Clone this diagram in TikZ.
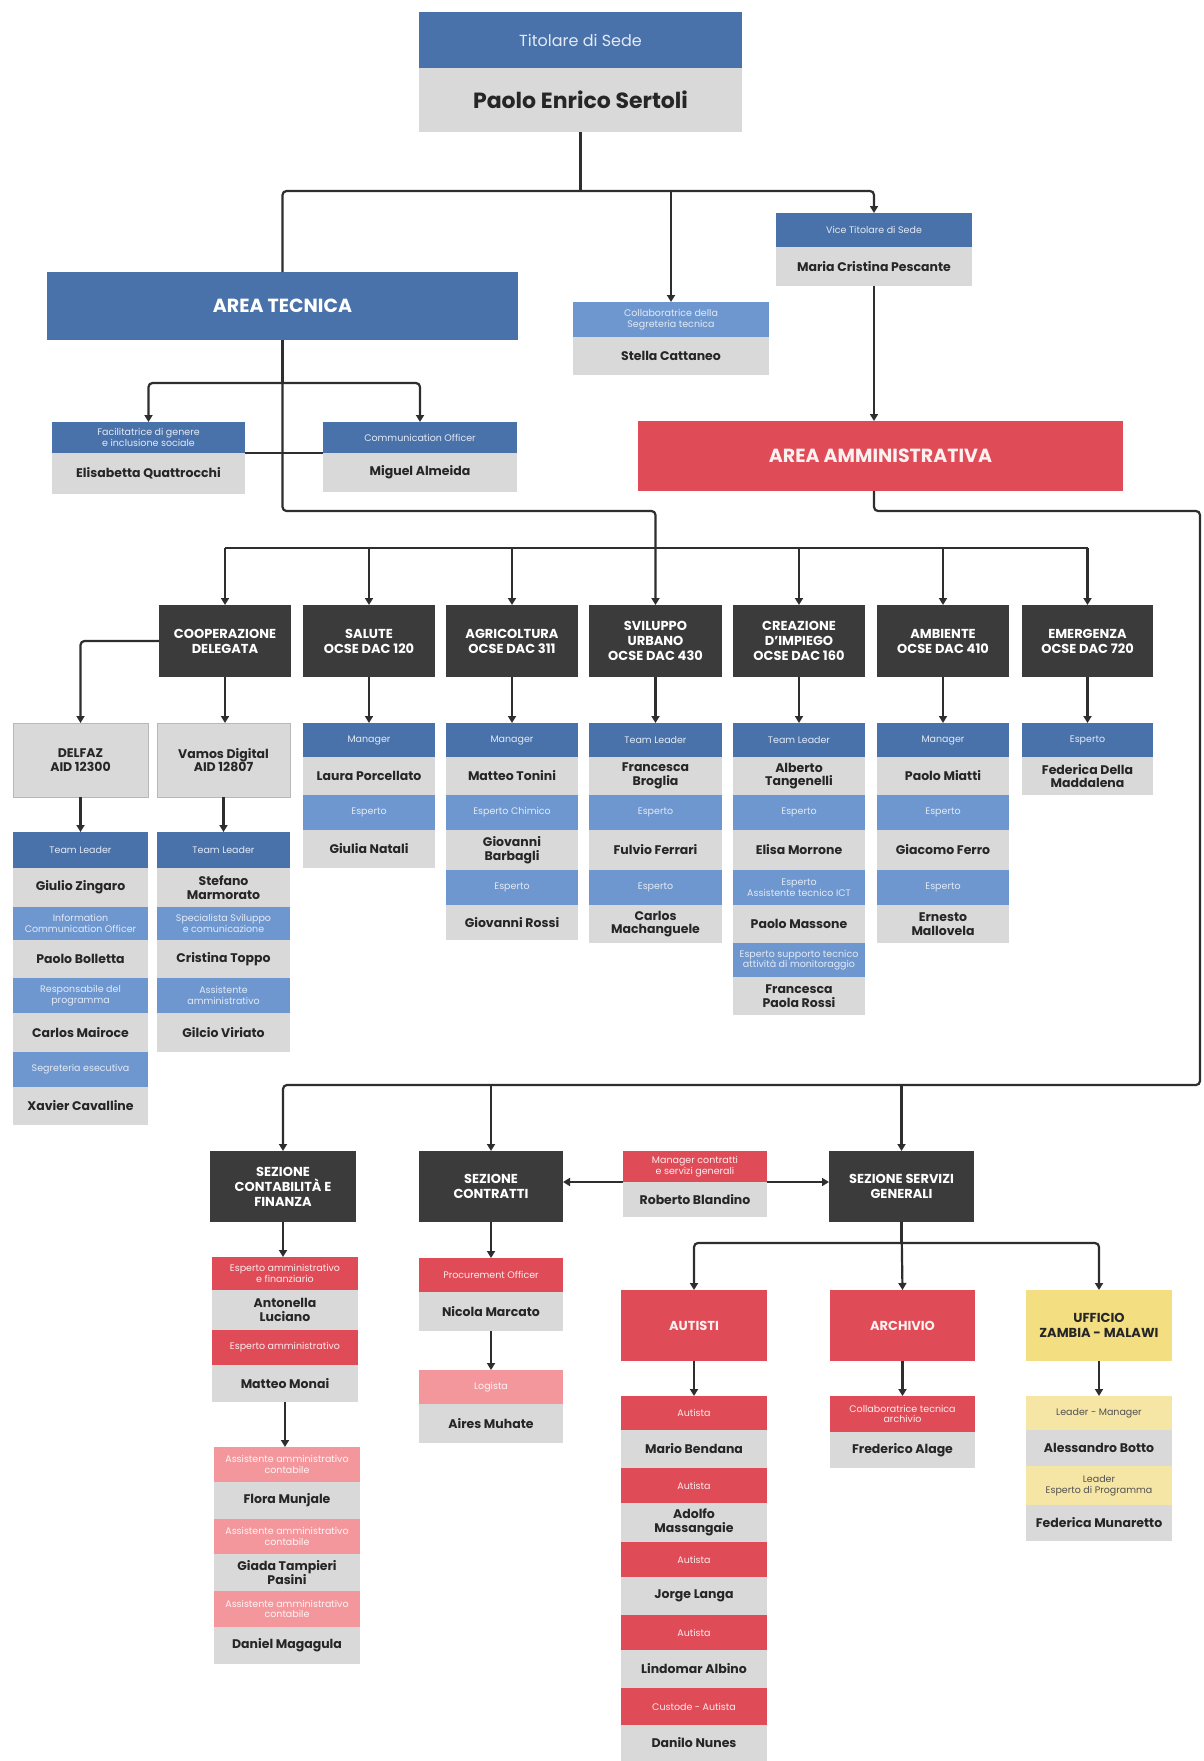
\documentclass[tikz,border=0pt]{standalone}
\usepackage{fontspec}
\setmainfont{Poppins}
\usetikzlibrary{arrows.meta}
\definecolor{hdblue}{HTML}{4A72AA}
\definecolor{ltblue}{HTML}{6E97D0}
\definecolor{cgrey}{HTML}{D9D9D9}
\definecolor{dkbox}{HTML}{3B3B3B}
\definecolor{red1}{HTML}{DF4B56}
\definecolor{pink1}{HTML}{F4979D}
\definecolor{yel1}{HTML}{F3DE82}
\definecolor{yel2}{HTML}{F6E6A6}
\definecolor{lncol}{HTML}{2E2E2E}
\definecolor{namecol}{HTML}{262626}
\definecolor{hdtext}{HTML}{E3EAF5}
\newcommand\hfont{\fontsize{9.5}{10.5}\selectfont}
\newcommand\nfont{\fontsize{12.5}{13.5}\selectfont\bfseries}
\newcommand\dfont{\fontsize{13}{15}\selectfont\bfseries}
\newcommand\obox[7]{\node[box,#6,minimum width={#3-#2},minimum height={#5-#4}] (#1) at ({(#2+#3)/2},{(#4+#5)/2}) {#7};}
\tikzset{
  box/.style={rectangle,inner sep=1pt,outer sep=0pt,align=center,draw=none},
  hd/.style={fill=hdblue,text=hdtext,font=\hfont},
  hl/.style={fill=ltblue,text=hdtext,font=\hfont},
  nm/.style={fill=cgrey,text=namecol,font=\nfont},
  dk/.style={fill=dkbox,text=white,font=\dfont},
  rd/.style={fill=red1,text=white!90!red1,font=\hfont},
  pk/.style={fill=pink1,text=white!90!pink1,font=\hfont},
  yl/.style={fill=yel2,text=namecol!80,font=\hfont},
  gb/.style={fill=cgrey,draw=black!28,line width=1pt,text=namecol,font=\nfont},
  ln/.style={draw=lncol,line width=2.2pt,rounded corners=4pt},
  arr/.style={ln,-{Triangle[length=7pt,width=8pt]}}
}
\begin{document}
\begin{tikzpicture}[x=1pt,y=-1pt]
\useasboundingbox (0,0) rectangle (1203,1761);
\fill[white] (0,0) rectangle (1203,1761);
% ---------- top ----------
\obox{topH}{419}{742}{12}{68}{hd,font=\fontsize{16}{18}\selectfont}{Titolare di Sede}
\obox{topN}{419}{742}{68}{132}{nm,font=\fontsize{22}{24}\selectfont\bfseries}{Paolo Enrico Sertoli}
\obox{viH}{776}{972}{213}{247}{hd}{Vice Titolare di Sede}
\obox{viN}{776}{972}{247}{286}{nm}{Maria Cristina Pescante}
\obox{stH}{573}{769}{302}{337}{hl}{Collaboratrice della\\Segreteria tecnica}
\obox{stN}{573}{769}{337}{375}{nm}{Stella Cattaneo}
\obox{at}{47}{518}{272}{340}{hd,text=white,font=\fontsize{19}{22}\selectfont\bfseries}{AREA TECNICA}
\obox{elH}{52}{245}{422}{453}{hd}{Facilitatrice di genere\\e inclusione sociale}
\obox{elN}{52}{245}{453}{494}{nm}{Elisabetta Quattrocchi}
\obox{miH}{323}{517}{422}{453}{hd}{Communication Officer}
\obox{miN}{323}{517}{453}{492}{nm}{Miguel Almeida}
\obox{aa}{638}{1123}{421}{491}{fill=red1,text=white!92!red1,font=\fontsize{19}{22}\selectfont\bfseries}{AREA AMMINISTRATIVA}
% ---------- dark boxes ----------
\obox{coD}{159}{291}{605}{677}{dk}{COOPERAZIONE\\DELEGATA}
\obox{saD}{303}{435}{605}{677}{dk}{SALUTE\\OCSE DAC 120}
\obox{agD}{446}{578}{605}{677}{dk}{AGRICOLTURA\\OCSE DAC 311}
\obox{svD}{589}{722}{605}{677}{dk}{SVILUPPO\\URBANO\\OCSE DAC 430}
\obox{crD}{733}{865}{605}{677}{dk}{CREAZIONE\\D'IMPIEGO\\OCSE DAC 160}
\obox{amD}{877}{1009}{605}{677}{dk}{AMBIENTE\\OCSE DAC 410}
\obox{emD}{1022}{1153}{605}{677}{dk}{EMERGENZA\\OCSE DAC 720}
% ---------- cooperazione ----------
\obox{delf}{13}{148}{723}{797}{gb}{DELFAZ\\AID 12300}
\obox{vam}{157}{290}{723}{797}{gb}{Vamos Digital\\AID 12807}
\obox{d1}{13}{148}{832}{868}{hd}{Team Leader}
\obox{d2}{13}{148}{868}{907}{nm}{Giulio Zingaro}
\obox{d3}{13}{148}{907}{940}{hl}{Information\\Communication Officer}
\obox{d4}{13}{148}{940}{978}{nm}{Paolo Bolletta}
\obox{d5}{13}{148}{978}{1013}{hl}{Responsabile del\\programma}
\obox{d6}{13}{148}{1013}{1052}{nm}{Carlos Mairoce}
\obox{d7}{13}{148}{1052}{1087}{hl}{Segreteria esecutiva}
\obox{d8}{13}{148}{1087}{1125}{nm}{Xavier Cavalline}
\obox{v1}{157}{290}{832}{868}{hd}{Team Leader}
\obox{v2}{157}{290}{868}{907}{nm}{Stefano\\Marmorato}
\obox{v3}{157}{290}{907}{940}{hl}{Specialista Sviluppo\\e comunicazione}
\obox{v4}{157}{290}{940}{978}{nm}{Cristina Toppo}
\obox{v5}{157}{290}{978}{1013}{hl}{Assistente\\amministrativo}
\obox{v6}{157}{290}{1013}{1052}{nm}{Gilcio Viriato}
% ---------- salute ----------
\obox{s1}{303}{435}{723}{757}{hd}{Manager}
\obox{s2}{303}{435}{757}{795}{nm}{Laura Porcellato}
\obox{s3}{303}{435}{795}{830}{hl}{Esperto}
\obox{s4}{303}{435}{830}{868}{nm}{Giulia Natali}
% ---------- agricoltura ----------
\obox{g1}{446}{578}{723}{757}{hd}{Manager}
\obox{g2}{446}{578}{757}{795}{nm}{Matteo Tonini}
\obox{g3}{446}{578}{795}{830}{hl}{Esperto Chimico}
\obox{g4}{446}{578}{830}{870}{nm}{Giovanni\\Barbagli}
\obox{g5}{446}{578}{870}{905}{hl}{Esperto}
\obox{g6}{446}{578}{905}{940}{nm}{Giovanni Rossi}
% ---------- sviluppo ----------
\obox{u1}{589}{722}{723}{757}{hd}{Team Leader}
\obox{u2}{589}{722}{757}{795}{nm}{Francesca\\Broglia}
\obox{u3}{589}{722}{795}{830}{hl}{Esperto}
\obox{u4}{589}{722}{830}{870}{nm}{Fulvio Ferrari}
\obox{u5}{589}{722}{870}{905}{hl}{Esperto}
\obox{u6}{589}{722}{905}{943}{nm}{Carlos\\Machanguele}
% ---------- creazione ----------
\obox{c1}{733}{865}{723}{757}{hd}{Team Leader}
\obox{c2}{733}{865}{757}{795}{nm}{Alberto\\Tangenelli}
\obox{c3}{733}{865}{795}{830}{hl}{Esperto}
\obox{c4}{733}{865}{830}{870}{nm}{Elisa Morrone}
\obox{c5}{733}{865}{870}{905}{hl}{Esperto\\Assistente tecnico ICT}
\obox{c6}{733}{865}{905}{943}{nm}{Paolo Massone}
\obox{c7}{733}{865}{943}{977}{hl}{Esperto supporto tecnico\\attività di monitoraggio}
\obox{c8}{733}{865}{977}{1015}{nm}{Francesca\\Paola Rossi}
% ---------- ambiente ----------
\obox{m1}{877}{1009}{723}{757}{hd}{Manager}
\obox{m2}{877}{1009}{757}{795}{nm}{Paolo Miatti}
\obox{m3}{877}{1009}{795}{830}{hl}{Esperto}
\obox{m4}{877}{1009}{830}{870}{nm}{Giacomo Ferro}
\obox{m5}{877}{1009}{870}{905}{hl}{Esperto}
\obox{m6}{877}{1009}{905}{943}{nm}{Ernesto\\Mallovela}
% ---------- emergenza ----------
\obox{e1}{1022}{1153}{723}{757}{hd}{Esperto}
\obox{e2}{1022}{1153}{757}{795}{nm}{Federica Della\\Maddalena}
% ---------- sezioni ----------
\obox{sc}{210}{356}{1151}{1222}{dk}{SEZIONE\\CONTABILITÀ E\\FINANZA}
\obox{sct}{419}{563}{1151}{1222}{dk}{SEZIONE\\CONTRATTI}
\obox{ssg}{829}{974}{1151}{1222}{dk}{SEZIONE SERVIZI\\GENERALI}
\obox{robH}{623}{767}{1151}{1182}{rd}{Manager contratti\\e servizi generali}
\obox{robN}{623}{767}{1182}{1217}{nm}{Roberto Blandino}
% contabilita
\obox{f1}{212}{358}{1257}{1290}{rd}{Esperto amministrativo\\e finanziario}
\obox{f2}{212}{358}{1290}{1330}{nm}{Antonella\\Luciano}
\obox{f3}{212}{358}{1330}{1365}{rd}{Esperto amministrativo}
\obox{f4}{212}{358}{1365}{1402}{nm}{Matteo Monai}
\obox{p1}{214}{360}{1447}{1482}{pk}{Assistente amministrativo\\contabile}
\obox{p2}{214}{360}{1482}{1519}{nm}{Flora Munjale}
\obox{p3}{214}{360}{1519}{1554}{pk}{Assistente amministrativo\\contabile}
\obox{p4}{214}{360}{1554}{1591}{nm}{Giada Tampieri\\Pasini}
\obox{p5}{214}{360}{1591}{1627}{pk}{Assistente amministrativo\\contabile}
\obox{p6}{214}{360}{1627}{1664}{nm}{Daniel Magagula}
% contratti
\obox{k1}{419}{563}{1258}{1292}{rd}{Procurement Officer}
\obox{k2}{419}{563}{1292}{1331}{nm}{Nicola Marcato}
\obox{k3}{419}{563}{1370}{1404}{pk}{Logista}
\obox{k4}{419}{563}{1404}{1443}{nm}{Aires Muhate}
% servizi generali
\obox{au}{621}{767}{1290}{1361}{fill=red1,text=white!92!red1,font=\dfont}{AUTISTI}
\obox{ar}{830}{975}{1290}{1361}{fill=red1,text=white!92!red1,font=\dfont}{ARCHIVIO}
\obox{uz}{1026}{1172}{1290}{1361}{fill=yel1,text=namecol,font=\dfont}{UFFICIO\\ZAMBIA - MALAWI}
\obox{a1}{621}{767}{1396}{1430}{rd}{Autista}
\obox{a2}{621}{767}{1430}{1468}{nm}{Mario Bendana}
\obox{a3}{621}{767}{1468}{1503}{rd}{Autista}
\obox{a4}{621}{767}{1503}{1542}{nm}{Adolfo\\Massangaie}
\obox{a5}{621}{767}{1542}{1577}{rd}{Autista}
\obox{a6}{621}{767}{1577}{1615}{nm}{Jorge Langa}
\obox{a7}{621}{767}{1615}{1650}{rd}{Autista}
\obox{a8}{621}{767}{1650}{1688}{nm}{Lindomar Albino}
\obox{a9}{621}{767}{1688}{1725}{rd}{Custode - Autista}
\obox{a10}{621}{767}{1725}{1761}{nm}{Danilo Nunes}
\obox{r1}{830}{975}{1396}{1432}{rd}{Collaboratrice tecnica\\archivio}
\obox{r2}{830}{975}{1432}{1468}{nm}{Frederico Alage}
\obox{z1}{1026}{1172}{1396}{1430}{yl}{Leader - Manager}
\obox{z2}{1026}{1172}{1430}{1466}{nm}{Alessandro Botto}
\obox{z3}{1026}{1172}{1466}{1505}{yl}{Leader\\Esperto di Programma}
\obox{z4}{1026}{1172}{1505}{1541}{nm}{Federica Munaretto}
% ---------- connectors ----------
\coordinate (j) at (0,191);
\coordinate (t1) at (0,383);
\coordinate (t2) at (284,511);
\coordinate (r) at (0,548);
\coordinate (ne) at (1200,511);
\coordinate (se) at (1200,1085);
\coordinate (g) at (0,1243);
\draw[ln] (topN.south) -- (topN.south |- j);
\draw[arr] (at.north) -- (at.north |- j) -- (viH.north |- j) -- (viH.north);
\draw[arr] (stH.north |- j) -- (stH.north);
\draw[arr] (viN.south) -- (viN.south |- aa.north);
\draw[ln] (at.south) -- (at.south |- t1);
\draw[arr] (at.south |- t1) -| (elH.north);
\draw[arr] (at.south |- t1) -| (miH.north);
\draw[ln] (elH.south east) -- (miH.south west);
\draw[arr] (at.south) -- (at.south |- t2) -| (svD.north);
\draw[ln] (coD.north |- r) -- (emD.north |- r);
\foreach \n in {coD,saD,agD,crD,amD,emD} \draw[arr] (\n.north |- r) -- (\n.north);
\draw[arr] (coD.west) -| (delf.north);
\draw[arr] (coD.south) -- (coD.south |- vam.north);
\draw[arr] (delf.south) -- (d1.north);
\draw[arr] (vam.south) -- (v1.north);
\draw[arr] (saD.south) -- (s1.north);
\draw[arr] (agD.south) -- (g1.north);
\draw[arr] (svD.south) -- (u1.north);
\draw[arr] (crD.south) -- (c1.north);
\draw[arr] (amD.south) -- (m1.north);
\draw[arr] (emD.south) -- (e1.north);
\draw[arr] (viN.south |- aa.south) -- (viN.south |- ne) -- (ne) -- (se) -| (sc.north);
\draw[arr] (sct.north |- se) -- (sct.north);
\draw[arr] (ssg.north |- se) -- (ssg.north);
\draw[arr] (robH.south west) -- (robH.south west -| sct.east);
\draw[arr] (robH.south east) -- (robH.south east -| ssg.west);
\draw[arr] (sc.south) -- (sc.south |- f1.north);
\draw[arr] (f4.south) -- (f4.south |- p1.north);
\draw[arr] (sct.south) -- (k1.north);
\draw[arr] (k2.south) -- (k3.north);
\draw[ln] (ssg.south) -- (ssg.south |- g);
\draw[arr] (ssg.south |- g) -| (au.north);
\draw[arr] (ssg.south |- g) -| (uz.north);
\draw[arr] (ssg.south) -- (ar.north);
\draw[arr] (au.south) -- (a1.north);
\draw[arr] (ar.south) -- (r1.north);
\draw[arr] (uz.south) -- (z1.north);
\end{tikzpicture}
\end{document}
